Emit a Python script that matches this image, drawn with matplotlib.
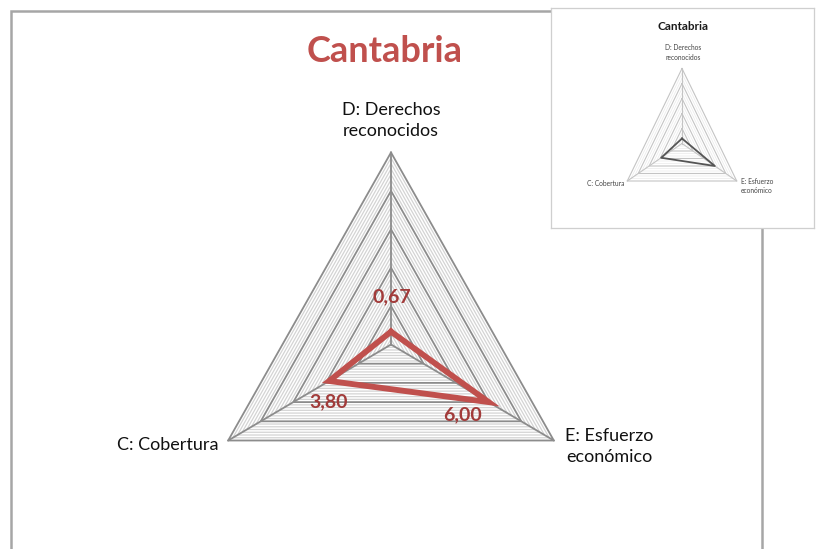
import numpy as np
import matplotlib.pyplot as plt
from matplotlib.patches import Rectangle

# Data
categories = ["D: Derechos\nreconocidos", "E: Esfuerzo\neconómico", "C: Cobertura"]
values = [0.67, 6.00, 3.80]
value_labels = ["0,67", "6,00", "3,80"]
title = "Cantabria"

# Colors / style
red_line = "#C0504D"
red_text = "#A23B3A"
major_grid = "#8C8C8C"
minor_grid = "#D4D4D4"
frame_color = "#A6A6A6"

vmax = 10
major_step = 2
minor_per_major = 7

plt.rcParams['font.family'] = ['Lato', 'DejaVu Sans']

W, H = 817, 549
fig = plt.figure(figsize=(W / 100, H / 100), dpi=100)
fig.patch.set_facecolor("white")

angles = np.deg2rad([90, -30, 210])


def px_axes(cx, cy, rx, ry):
    # axes centred on pixel (cx, cy), half-size rx/ry pixels
    return fig.add_axes([(cx - rx) / W, (H - cy - ry) / H, 2 * rx / W, 2 * ry / H])


def tri(r):
    x = r * np.cos(angles)
    y = r * np.sin(angles)
    return np.append(x, x[0]), np.append(y, y[0])


def draw_grid(ax, maj_c, min_c, maj_lw, min_lw, n_minor):
    minor_levels = np.arange(1, vmax / major_step * n_minor + 1) * major_step / n_minor
    for r in minor_levels:
        if np.isclose(r % major_step, 0) or np.isclose(r % major_step, major_step):
            continue
        x, y = tri(r)
        ax.plot(x, y, color=min_c, lw=min_lw, zorder=1)
    for r in np.arange(major_step, vmax + 0.01, major_step):
        x, y = tri(r)
        ax.plot(x, y, color=maj_c, lw=maj_lw, zorder=2)
    for a in angles:
        ax.plot([0, vmax * np.cos(a)], [0, vmax * np.sin(a)], color=maj_c, lw=maj_lw, zorder=2)


# Outer chart frame (behind the inset)
fig.add_artist(Rectangle((10.5 / W, -0.1), (762 - 10.5) / W, (H - 10.5) / H + 0.1,
                         transform=fig.transFigure, fill=False, ec=frame_color, lw=1.8, zorder=-1))

# Main radar
lim = 11
ax = px_axes(391, 344.5, 188 * lim / vmax, 192 * lim / vmax)
ax.set_xlim(-lim, lim)
ax.set_ylim(-lim, lim)
ax.axis("off")

draw_grid(ax, major_grid, minor_grid, 1.3, 0.9, minor_per_major)

vx = np.array(values) * np.cos(angles)
vy = np.array(values) * np.sin(angles)
ax.plot(np.append(vx, vx[0]), np.append(vy, vy[0]), color=red_line, lw=4.2,
        solid_joinstyle="miter", zorder=5)

lbl_offsets = [(1, 35), (-26, -13), (-1, -21)]
for x, y, t, off in zip(vx, vy, value_labels, lbl_offsets):
    ax.annotate(t, (x, y), xytext=off, textcoords="offset pixels", ha="center", va="center",
                fontsize=14, fontweight="bold", color=red_text, zorder=6)

cat_pos = [((0, 32), "center", "center"), ((11, -6), "left", "center"), ((-10, -5), "right", "center")]
for a, c, (off, ha, va) in zip(angles, categories, cat_pos):
    ax.annotate(c, (vmax * np.cos(a), vmax * np.sin(a)), xytext=off, textcoords="offset pixels",
                ha=ha, va=va, multialignment="center", fontsize=13, linespacing=1.4, color="#111111")

fig.text(385 / W, 1 - 52 / H, title, ha="center", va="center", fontsize=26,
         fontweight="bold", color=red_line)

# Inset thumbnail in the top right
inset_bg = fig.add_axes([551 / W, 1 - 228 / H, (814 - 551) / W, (228 - 8) / H])
inset_bg.set_xticks([])
inset_bg.set_yticks([])
for s in inset_bg.spines.values():
    s.set_color("#CFCFCF")
    s.set_linewidth(0.9)
inset_bg.set_facecolor("white")
inset_bg.text(0.5, 1 - 18 / 220, title, transform=inset_bg.transAxes, ha="center", va="center",
              fontsize=8.5, fontweight="bold", color="#1a1a1a")

ilim = 11
ix = px_axes(682, 143.5, 63.2 * ilim / vmax, 75 * ilim / vmax)
ix.set_xlim(-ilim, ilim)
ix.set_ylim(-ilim, ilim)
ix.axis("off")
draw_grid(ix, "#C4C4C4", "#EAEAEA", 0.8, 0.5, 3)
ix.plot(np.append(vx, vx[0]), np.append(vy, vy[0]), color="#555555", lw=1.3, zorder=5)
icat = [((1, 16), "center", "center"), ((4, -5), "left", "center"), ((-3, -3), "right", "center")]
for a, c, (off, ha, va) in zip(angles, categories, icat):
    ix.annotate(c, (vmax * np.cos(a), vmax * np.sin(a)), xytext=off, textcoords="offset pixels",
                ha=ha, va=va, multialignment="center", fontsize=4.8, linespacing=1.4, color="#444444")

fig.savefig("out.png", dpi=100)
